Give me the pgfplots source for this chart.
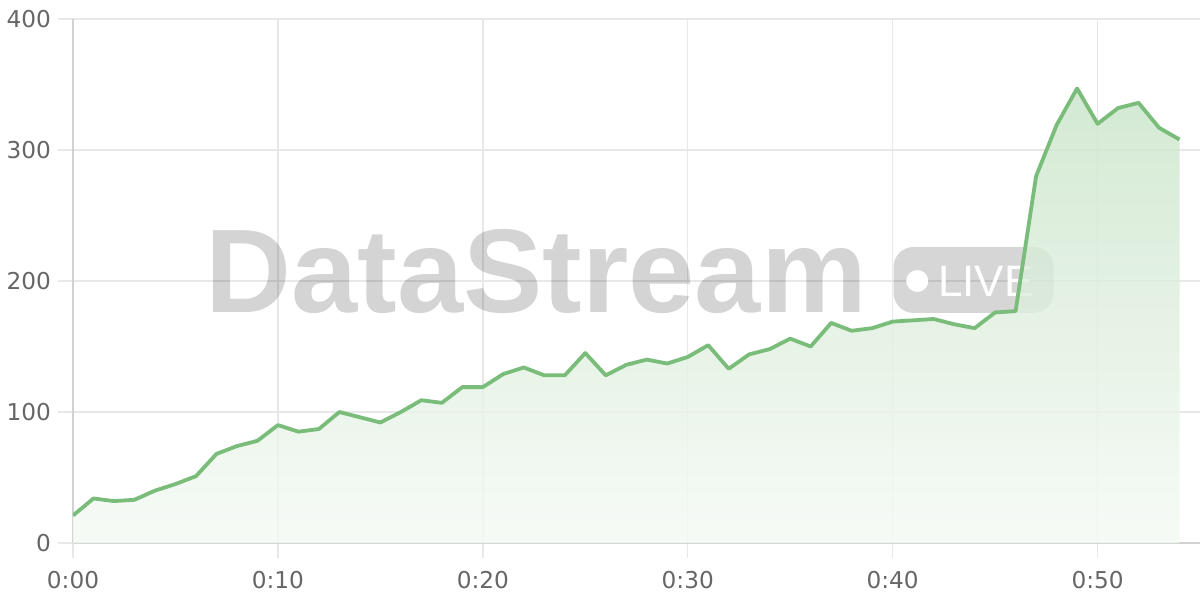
\documentclass[border=0pt]{standalone}
\usepackage{pgfplots}
\usepackage{pgfplotstable}
\pgfplotsset{compat=1.18}
\usepackage{fontspec}
\setmainfont{DejaVu Sans}
\newfontfamily\wmfont{Liberation Sans}

\definecolor{linegreen}{RGB}{122,189,122}
\definecolor{gridgray}{RGB}{232,232,232}
\definecolor{axisgray}{RGB}{210,210,210}
\definecolor{labelgray}{RGB}{102,102,102}

% viewers per minute
\pgfplotstableread{
t v
0 21
1 34
2 32
3 33
4 40
5 45
6 51
7 68
8 74
9 78
10 90
11 85
12 87
13 100
14 96
15 92
16 100
17 109
18 107
19 119
20 119
21 129
22 134
23 128
24 128
25 145
26 128
27 136
28 140
29 137
30 142
31 151
32 133
33 144
34 148
35 156
36 150
37 168
38 162
39 164
40 169
41 170
42 171
43 167
44 164
45 176
46 177
47 280
48 319
49 347
50 320
51 332
52 336
53 317
54 308
}\viewers

\begin{document}
\begin{tikzpicture}
\begin{axis}[name=ax,
  scale only axis, width=563.5pt, height=262pt,
  xmin=0, xmax=55, ymin=0, ymax=400,
  axis x line*=bottom, axis y line*=left,
  axis line style={axisgray, line width=1pt},
  xtick={0,10,...,50},
  xticklabels={0:00,0:10,0:20,0:30,0:40,0:50},
  ytick={0,100,...,400},
  grid=major,
  major grid style={gridgray, line width=0.75pt},
  tick align=outside, major tick length=7.5pt,
  every tick/.style={gridgray, line width=0.75pt},
  ticklabel style={font=\fontsize{11.6}{13}\selectfont, text=labelgray},
  xticklabel style={yshift=-3pt},
  /pgf/number format/assume math mode=true,
  no markers]

% watermark
\node[anchor=base west, inner sep=0, text=black, text opacity=0.17,
  font=\wmfont\bfseries\fontsize{59.5}{62}\selectfont] at (axis cs:6.45,175.6) {DataStream};
\node[fill=black, fill opacity=0.16, rounded corners=10pt, minimum width=80pt,
  minimum height=33pt, inner sep=0] at (axis cs:43.95,200.8) {};
\fill[white] (axis cs:41.2,200) circle[radius=5.5pt];
\node[anchor=base west, inner sep=0, text=white,
  font=\wmfont\fontsize{22}{24}\selectfont] at (axis cs:42.2,187.8) {LIVE};

\addplot[draw=none, top color=linegreen!41!white, bottom color=linegreen!8!white,
  fill opacity=0.8] table {\viewers} \closedcycle;
\addplot[linegreen, line width=1.9pt, line join=round] table {\viewers};
\end{axis}
\pgfresetboundingbox
\path[use as bounding box] ([shift={(-36.5pt,-28.5pt)}]ax.south west)
  rectangle ([shift={(0pt,9.5pt)}]ax.north east);
\end{tikzpicture}
\end{document}
